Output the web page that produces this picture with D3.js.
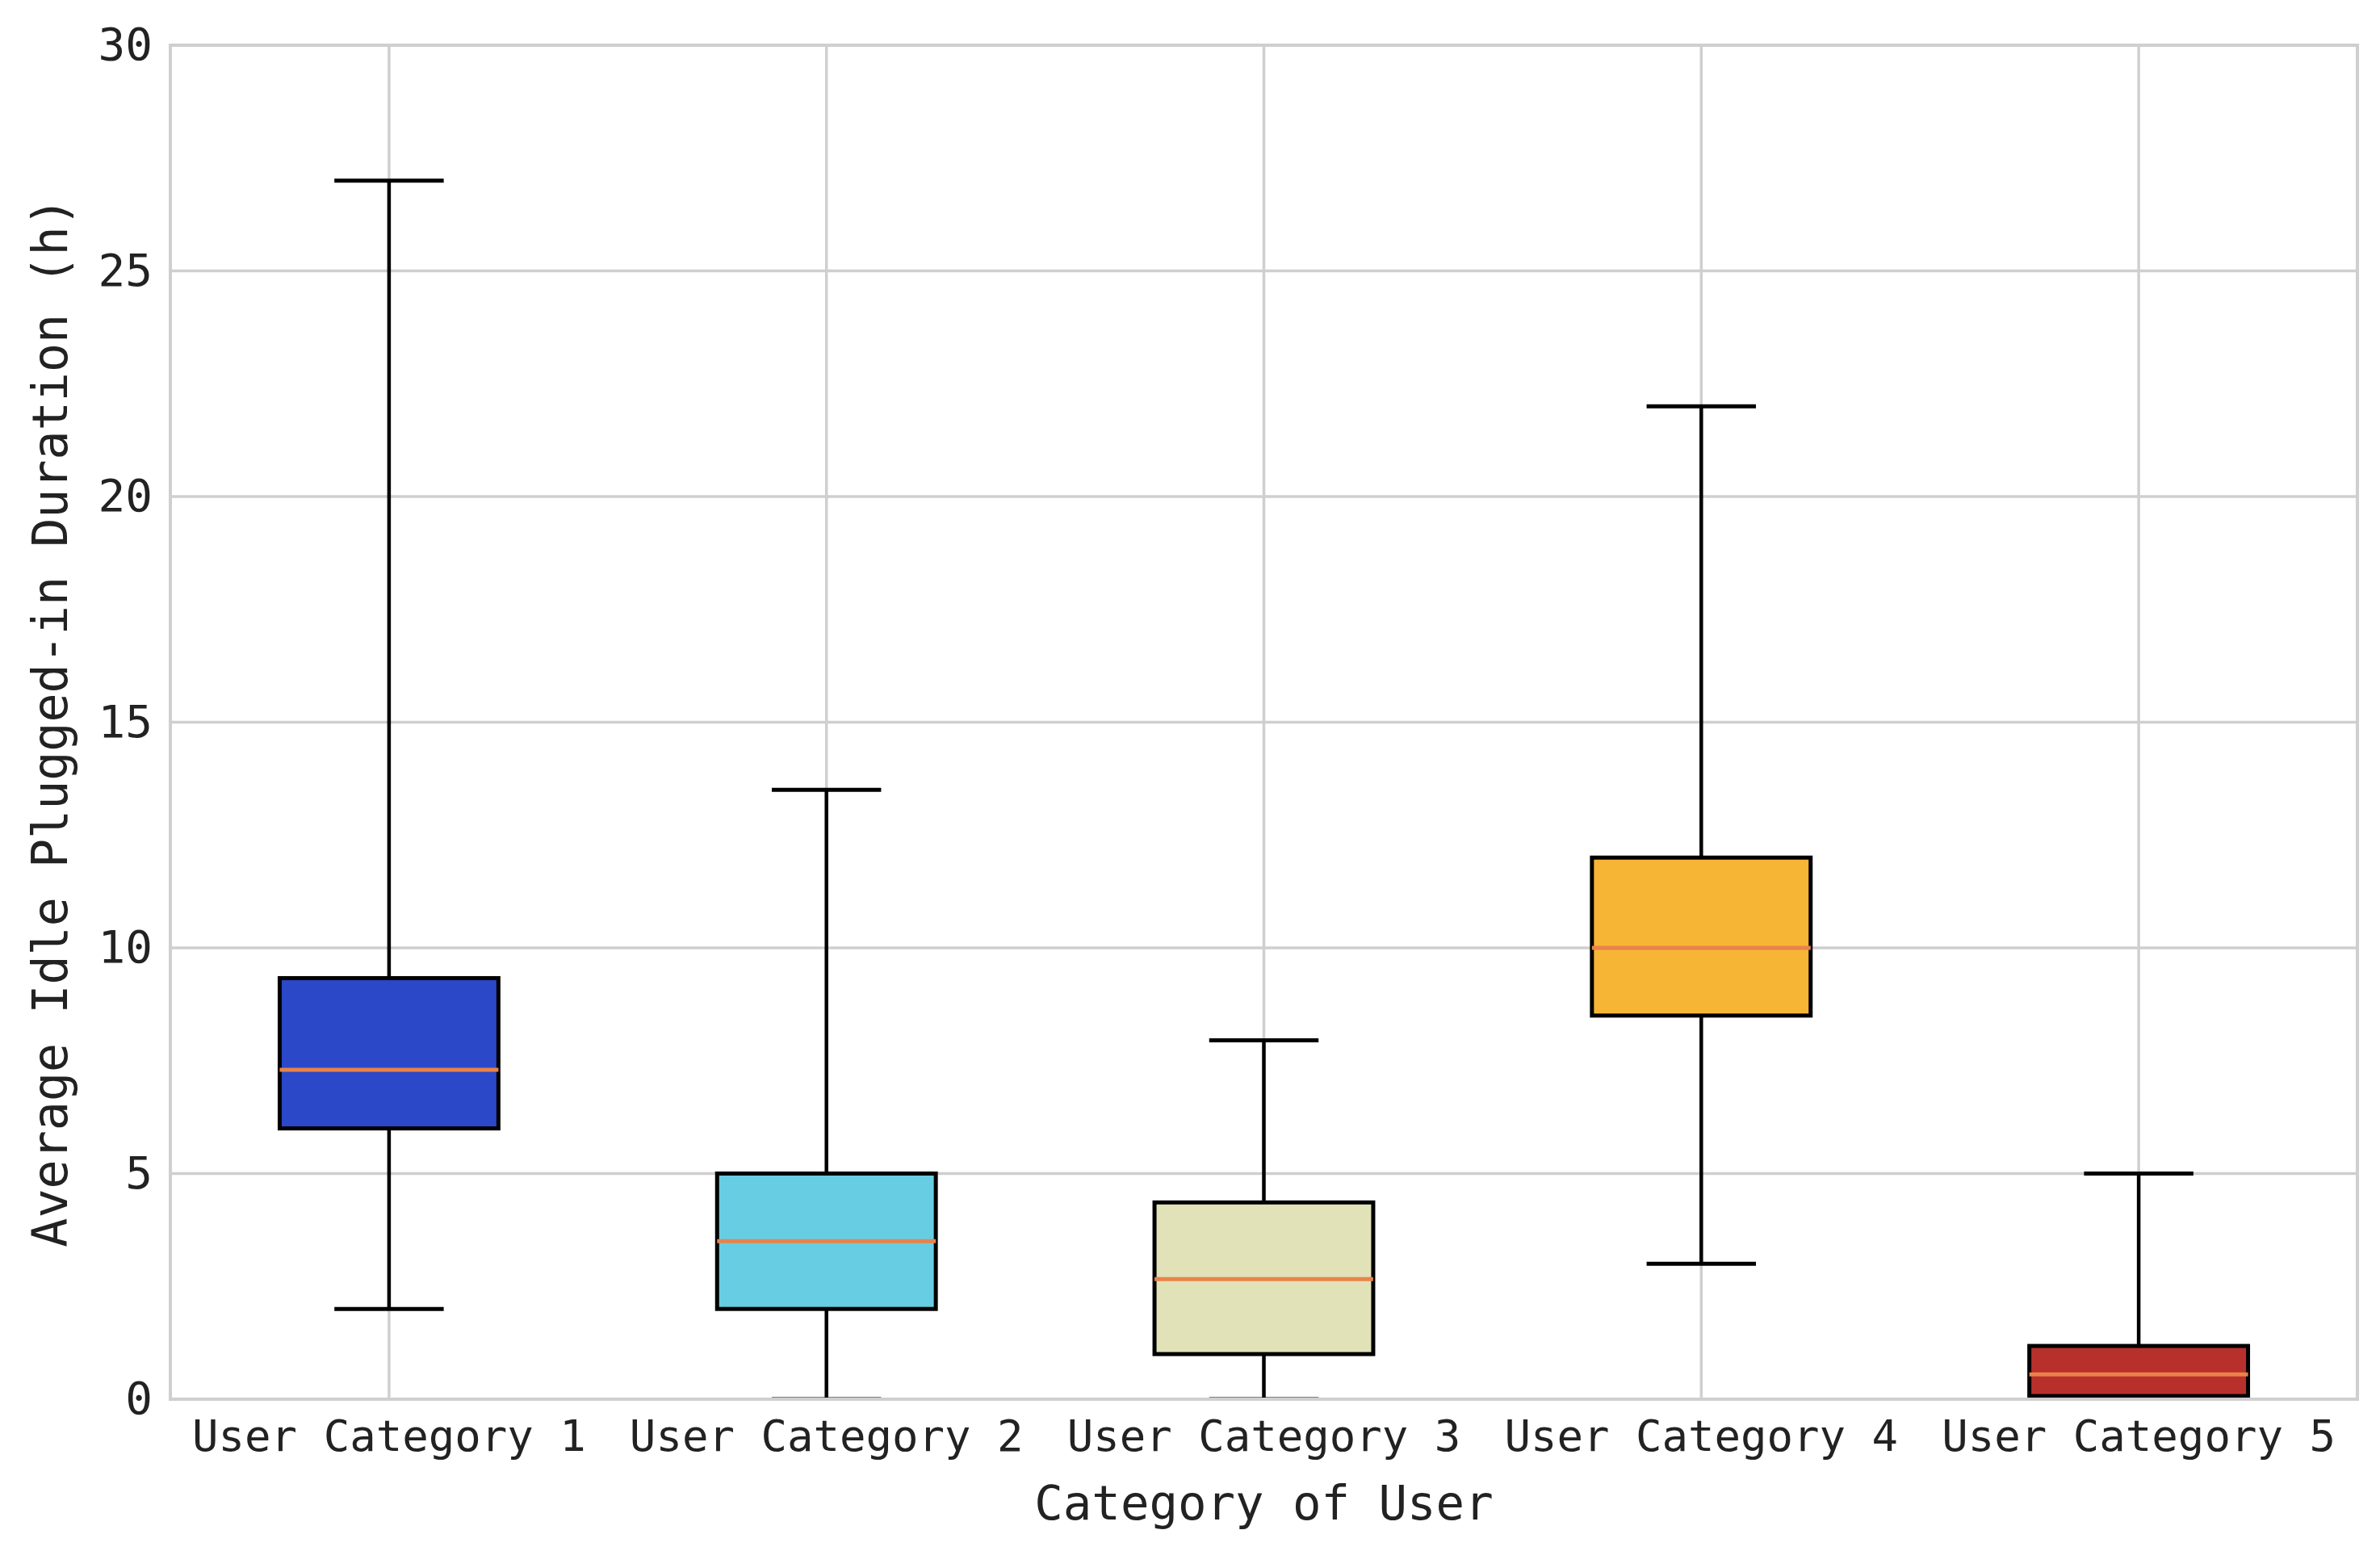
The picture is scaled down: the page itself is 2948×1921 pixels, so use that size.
<!DOCTYPE html>
<html>
<head>
<meta charset="utf-8">
<script src="https://cdn.jsdelivr.net/npm/d3@7"></script>
<style>
  html, body { margin: 0; padding: 0; background: #ffffff; }
  svg { display: block; }
</style>
</head>
<body>
<div id="chart"></div>
<script>
// ---- Data ----
const categories = ["User Category 1", "User Category 2", "User Category 3", "User Category 4", "User Category 5"];
const whiskerLow  = [2,    0,    0,    3,    0];
const q1Values    = [6,    2,    1,    8.5,  0.07];
const medianValues= [7.3,  3.5,  2.66, 10,   0.55];
const q3Values    = [9.33, 5,    4.36, 12,   1.18];
const whiskerHigh = [27,   13.5, 7.95, 22,   5];
const boxColors   = ["#2b48c8", "#66cde3", "#e1e2b8", "#f7b535", "#b8302c"];
const yTicks      = [0, 5, 10, 15, 20, 25, 30];
const xTitle = "Category of User";
const yTitle = "Average Idle Plugged-in Duration (h)";

// ---- Layout ----
const W = 2948, H = 1921;
const plot = { left: 211, right: 2920, top: 56, bottom: 1733 };
const font = "'DejaVu Sans Mono', monospace";

const svg = d3.select("#chart").append("svg")
  .attr("width", W).attr("height", H);

const x = d3.scaleBand().domain(categories).range([plot.left, plot.right]).paddingInner(0).paddingOuter(0);
const y = d3.scaleLinear().domain([0, 30]).range([plot.bottom, plot.top]);

const data = categories.map((c, i) => ({
  cat: c, lo: whiskerLow[i], q1: q1Values[i], med: medianValues[i],
  q3: q3Values[i], hi: whiskerHigh[i], color: boxColors[i]
}));

svg.append("defs").append("clipPath").attr("id", "clip")
  .append("rect").attr("x", plot.left).attr("y", plot.top)
  .attr("width", plot.right - plot.left).attr("height", plot.bottom - plot.top);

// grid
const grid = svg.append("g");
grid.selectAll("line.h").data(yTicks).join("line")
  .attr("x1", plot.left).attr("x2", plot.right)
  .attr("y1", d => y(d)).attr("y2", d => y(d))
  .attr("stroke", "#cfcfcf").attr("stroke-width", 3.5);
grid.selectAll("line.v").data(categories).join("line")
  .attr("x1", d => x(d) + x.bandwidth() / 2).attr("x2", d => x(d) + x.bandwidth() / 2)
  .attr("y1", plot.top).attr("y2", plot.bottom)
  .attr("stroke", "#cfcfcf").attr("stroke-width", 3.5);

// boxes
const bw = x.bandwidth() * 0.5;
const cw = x.bandwidth() * 0.25;
const g = svg.append("g").attr("clip-path", "url(#clip)");
const items = g.selectAll("g.box").data(data).join("g")
  .attr("transform", d => `translate(${x(d.cat) + x.bandwidth() / 2},0)`);

// whiskers
items.append("line").attr("x1", 0).attr("x2", 0)
  .attr("y1", d => y(d.q3)).attr("y2", d => y(d.hi))
  .attr("stroke", "#000").attr("stroke-width", 4.5);
items.append("line").attr("x1", 0).attr("x2", 0)
  .attr("y1", d => y(d.q1)).attr("y2", d => y(d.lo))
  .attr("stroke", "#000").attr("stroke-width", 4.5);
// caps
items.append("line").attr("x1", -cw / 2).attr("x2", cw / 2)
  .attr("y1", d => y(d.hi)).attr("y2", d => y(d.hi))
  .attr("stroke", "#000").attr("stroke-width", 5);
items.append("line").attr("x1", -cw / 2).attr("x2", cw / 2)
  .attr("y1", d => y(d.lo)).attr("y2", d => y(d.lo))
  .attr("stroke", "#000").attr("stroke-width", 5);
// box
items.append("rect")
  .attr("x", -bw / 2).attr("width", bw)
  .attr("y", d => y(d.q3)).attr("height", d => y(d.q1) - y(d.q3))
  .attr("fill", d => d.color).attr("stroke", "#000").attr("stroke-width", 5);
// median
items.append("line").attr("x1", -bw / 2).attr("x2", bw / 2)
  .attr("y1", d => y(d.med)).attr("y2", d => y(d.med))
  .attr("stroke", "#e8834a").attr("stroke-width", 5);

// frame (spines)
svg.append("rect")
  .attr("x", plot.left).attr("y", plot.top)
  .attr("width", plot.right - plot.left).attr("height", plot.bottom - plot.top)
  .attr("fill", "none").attr("stroke", "#cfcfcf").attr("stroke-width", 4);

// y axis
const yAxis = d3.axisLeft(y).tickValues(yTicks).tickSize(0).tickPadding(22).tickFormat(d3.format("d"));
const ya = svg.append("g").attr("transform", `translate(${plot.left},0)`).call(yAxis);
ya.select(".domain").remove();
ya.selectAll("text").attr("font-family", font).attr("font-size", 56).attr("fill", "#222");

// x axis
const xAxis = d3.axisBottom(x).tickSize(0).tickPadding(26);
const xa = svg.append("g").attr("transform", `translate(0,${plot.bottom})`).call(xAxis);
xa.select(".domain").remove();
xa.selectAll("text").attr("font-family", font).attr("font-size", 54).attr("fill", "#222");

// titles
svg.append("text")
  .attr("x", (plot.left + plot.right) / 2).attr("y", 1866)
  .attr("text-anchor", "middle").attr("dominant-baseline", "middle")
  .attr("font-family", font).attr("font-size", 59).attr("fill", "#222")
  .text(xTitle);
svg.append("text")
  .attr("transform", `translate(66,${(plot.top + plot.bottom) / 2}) rotate(-90)`)
  .attr("text-anchor", "middle").attr("dominant-baseline", "middle")
  .attr("font-family", font).attr("font-size", 60).attr("fill", "#222")
  .text(yTitle);
</script>
</body>
</html>
